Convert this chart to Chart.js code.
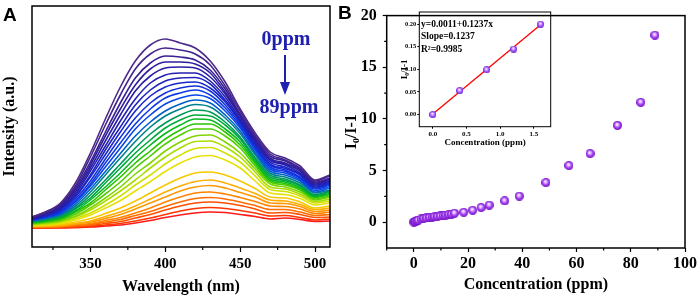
<!DOCTYPE html>
<html>
<head>
<meta charset="utf-8">
<script src="https://cdn.jsdelivr.net/npm/chart.js@4.4.1/dist/chart.umd.min.js"></script>
<style>
  body { margin: 0; background: #fff; }
  #wrap { position: relative; width: 699px; height: 299px; overflow: hidden; }
  canvas { position: absolute; }
</style>
</head>
<body>
<div id="wrap">
  <canvas id="spectra" width="340" height="299" style="left:0;top:0"></canvas>
  <canvas id="quench" width="364" height="299" style="left:335px;top:0"></canvas>
  <canvas id="inset" width="170" height="152" style="left:390px;top:0"></canvas>
</div>
<script>
// ---- panel A: emission spectra, one row per concentration (0 -> 89 ppm) ----
const wavelength = [311, 320, 330, 340, 350, 360, 370, 380, 390, 400, 410, 420, 430, 440, 450, 460, 470, 480, 490, 500, 510];
const intensityRows = [
  [30, 35, 44, 64, 94, 128, 160, 186, 202, 208, 204, 199, 186, 165, 138, 114, 95, 89, 81, 67, 72],
  [30, 35, 43, 61, 90, 122, 152, 178, 193, 199, 197, 193, 182, 161, 136, 111.5, 93, 87, 79, 66, 71],
  [29, 34, 42, 59, 85, 115, 144, 169, 184, 191, 190, 187, 177, 158, 133, 109.5, 91, 86, 78, 65, 69],
  [29, 33, 41, 57, 82, 111, 138, 162, 178, 185, 185, 183, 174, 155, 132, 108, 89, 84, 77, 64, 68],
  [28.5, 33, 40, 55, 79, 106, 132, 156, 171, 179, 180, 179, 170, 153, 130.5, 107, 88, 83, 76, 63, 67],
  [28.5, 32, 39, 53, 76, 101, 126, 148, 164, 172, 174, 174, 166, 150, 128, 105.5, 87, 82, 74, 62, 66],
  [28, 31.5, 38, 51, 72, 97, 120, 142, 157, 166, 169, 169.5, 163, 147, 126.5, 104, 85, 80, 73, 61, 65],
  [28, 31, 37, 50, 70, 92.5, 115, 136, 151, 160, 164, 165, 159, 145, 125, 102, 83, 78.5, 72, 60, 64],
  [27.5, 30.5, 36, 48, 66, 88, 109.5, 129, 144, 154, 159, 161, 156, 142, 123, 100.5, 82, 77, 70, 59, 63],
  [27, 30, 35, 46, 63, 84, 104, 123, 138, 149, 154, 157, 152, 139, 121, 99, 80, 75.5, 69, 58, 62],
  [27, 29.5, 34, 45, 61, 80, 99, 118, 132, 143, 149, 152, 148.5, 136, 119, 97, 78, 74, 67.5, 56.5, 60.5],
  [26.5, 29, 33, 43, 58, 75.5, 93.5, 111, 125, 136, 143, 147, 144, 132, 116, 94.5, 76, 72, 66, 55, 59],
  [26, 28, 32, 41, 55, 72, 89, 105.5, 120, 131, 138, 142.5, 140, 129, 113.5, 92.5, 74, 70, 64, 54, 57],
  [25.5, 27.5, 31, 39, 52, 67, 83, 99, 113, 124, 132, 137, 135, 125, 110, 89.5, 72, 68, 62, 52.5, 56],
  [25, 27, 30, 38, 49, 64, 79, 94, 107, 119, 127, 132, 131, 122, 108, 87.5, 70, 66.5, 61, 51.5, 55],
  [24.5, 26, 29, 36, 47, 60, 74, 89, 102, 113.5, 122, 128, 127, 118, 105, 85.5, 68, 65, 59.5, 50.5, 53.5],
  [24, 25.5, 28, 35, 44, 57, 70, 84, 96, 108, 117, 123, 123, 115, 102, 83.5, 66.5, 63.5, 58, 49.5, 52.5],
  [23.5, 25, 27, 33, 42, 53, 65, 79, 91, 103, 112, 118, 118, 111, 99, 81, 65, 62, 57, 48, 51],
  [23, 24, 26, 31, 39, 49, 60, 73, 84, 96, 105, 111, 112, 105, 94, 78, 63, 60, 55, 47, 50],
  [22.5, 23.5, 25.5, 30, 37, 46, 56, 67, 79, 90, 99, 105.5, 106, 100, 90, 75, 60, 58, 53, 45.5, 48],
  [22, 22.5, 24.5, 28.5, 34, 42, 51, 62, 72, 83, 92, 98.5, 99.5, 94, 85, 71, 57.5, 55.5, 51, 44, 46],
  [21.5, 22, 23.5, 27, 32, 39, 46.5, 56, 65.5, 75.5, 84, 90, 91.5, 87, 79, 66, 54, 52.5, 48.5, 42, 44],
  [21, 21.5, 22.5, 25, 28.5, 33.5, 39, 46, 54, 62, 69, 74, 75, 72, 66, 58.5, 50, 49, 45, 39, 41],
  [20.5, 21, 21.5, 23.5, 26, 30.5, 35, 41, 48, 55, 61, 65.5, 67, 64, 59, 53.5, 47, 46, 42.5, 37.5, 39],
  [20.5, 20.5, 21.5, 23, 25, 28.5, 32.5, 38, 44, 50, 56, 60, 61.5, 59, 54.5, 50, 44, 43.5, 40.5, 35.5, 37],
  [20, 20, 20.5, 22, 23.5, 26.5, 29.5, 34, 39, 45, 50, 54, 55, 53, 49.5, 45.5, 41, 40.5, 38, 33.5, 35],
  [20, 20, 20.5, 21.5, 22.5, 25, 27.5, 31.5, 35.5, 40.5, 45, 48.5, 49.5, 48, 45, 41.5, 37.5, 37.5, 35, 31.5, 32.5],
  [19.5, 19.5, 20, 20.5, 21.5, 23.5, 25.5, 29, 32.5, 37, 41, 44, 45, 44, 41.5, 38, 34, 34.5, 32.5, 29.5, 30],
  [19, 19, 19.5, 19.5, 20.5, 22, 23.5, 26, 29, 32.5, 36, 38.5, 39.5, 38.5, 36.5, 34, 31, 31.5, 29.5, 27, 28],
  [19, 19, 19, 19.5, 20, 21, 22, 24, 26.5, 29.5, 32, 34, 35, 34.5, 32.5, 30.5, 28, 29, 27.5, 25.5, 26]
];
const wavelengthTicks = [350, 400, 450, 500];

// ---- panel B: Stern-Volmer plot ----
const concentration = [0, 0.4, 0.8, 1.2, 1.6, 2.7, 3.7, 4.7, 5.8, 6.8, 7.7, 8.8, 9.8, 10.8, 11.8, 12.9, 13.9, 15.0, 18.4, 21.7, 24.8, 27.8, 33.5, 38.9, 48.7, 57.2, 65.0, 75.1, 83.7, 88.9];
const quenchRatio = [0, 0.053, 0.099, 0.145, 0.2, 0.31, 0.36, 0.41, 0.47, 0.5, 0.53, 0.56, 0.6, 0.65, 0.69, 0.75, 0.79, 0.87, 0.96, 1.15, 1.42, 1.65, 2.06, 2.52, 3.83, 5.48, 6.64, 9.37, 11.6, 18.1];
const concTicks = [0, 20, 40, 60, 80, 100];
const ratioTicks = [0, 5, 10, 15, 20];

// ---- inset: linear range ----
const insetConc = [0, 0.4, 0.8, 1.2, 1.6];
const insetRatio = [0, 0.053, 0.099, 0.145, 0.2];
const fitConc = [0, 1.6];
const fitRatio = [0.0011, 0.1990];
const insetConcTicks = [0, 0.5, 1.0, 1.5];
const insetRatioTicks = [0, 0.05, 0.10, 0.15, 0.20];

Chart.defaults.font.family = '"Liberation Serif", "Times New Roman", serif';
Chart.defaults.font.weight = 'bold';
Chart.defaults.color = '#000';

// colours from purple (0 ppm) to red (89 ppm)
const curveColors = ['#4d2a8a', '#42248e', '#382094', '#301e9c', '#2a1ea6', '#241fb2', '#1e22c0', '#1828cc',
  '#1430d8', '#0e3ae2', '#0846ea', '#0060c8', '#00808c', '#009a5a', '#00aa3c', '#08b820', '#28c400',
  '#50cc00', '#80d400', '#a8dc00', '#d0e000', '#e8e000', '#f8c800', '#ffae00', '#ff9800', '#ff8400',
  '#ff6c00', '#ff5000', '#ff3400', '#ff1a1a'];

function makeSphere(d, mid, outer) {
  const c = document.createElement('canvas');
  c.width = c.height = d;
  const g = c.getContext('2d');
  const r = d / 2;
  const grad = g.createRadialGradient(r * 0.85, r * 0.7, 0, r, r, r);
  grad.addColorStop(0, '#ffffff');
  grad.addColorStop(0.3, '#e2b8ff');
  grad.addColorStop(0.65, mid);
  grad.addColorStop(1, outer);
  g.fillStyle = grad;
  g.beginPath();
  g.arc(r, r, r, 0, Math.PI * 2);
  g.fill();
  return c;
}

// box round the plot area + short minor ticks
const framePlugin = {
  id: 'frame',
  afterDraw(chart, args, opts) {
    const { ctx, chartArea: a } = chart;
    ctx.save();
    ctx.strokeStyle = '#000';
    ctx.lineWidth = opts.tickWidth || 1.2;
    ctx.beginPath();
    (opts.minorX || []).forEach(v => {
      const x = chart.scales.x.getPixelForValue(v);
      ctx.moveTo(x, a.bottom); ctx.lineTo(x, a.bottom + opts.minorLen);
    });
    (opts.minorY || []).forEach(v => {
      const y = chart.scales.y.getPixelForValue(v);
      ctx.moveTo(a.left, y); ctx.lineTo(a.left - opts.minorLen, y);
    });
    ctx.stroke();
    ctx.lineWidth = opts.width || 1.5;
    ctx.strokeRect(a.left, a.top, a.right - a.left, a.bottom - a.top);
    ctx.restore();
  }
};

// free text (panel letters, notes)
const notesPlugin = {
  id: 'notes',
  afterDraw(chart, args, opts) {
    const ctx = chart.ctx;
    ctx.save();
    (opts.items || []).forEach(it => {
      ctx.font = it.font;
      ctx.fillStyle = it.color || '#000';
      ctx.textAlign = it.align || 'left';
      ctx.textBaseline = 'alphabetic';
      ctx.fillText(it.text, it.x, it.y);
    });
    if (opts.arrow) {
      const ar = opts.arrow;
      ctx.strokeStyle = ar.color;
      ctx.fillStyle = ar.color;
      ctx.lineWidth = 2;
      ctx.beginPath();
      ctx.moveTo(ar.x, ar.y0); ctx.lineTo(ar.x, ar.y1 - 10);
      ctx.stroke();
      ctx.beginPath();
      ctx.moveTo(ar.x - 5, ar.y1 - 13); ctx.lineTo(ar.x + 5, ar.y1 - 13); ctx.lineTo(ar.x, ar.y1);
      ctx.closePath();
      ctx.fill();
    }
    ctx.restore();
  }
};

function setTicks(values) {
  return scale => { scale.ticks = values.map(v => ({ value: v })); };
}

// ---------- panel A ----------
new Chart(document.getElementById('spectra'), {
  type: 'line',
  data: {
    datasets: intensityRows.map((row, i) => ({
      data: row.map((v, j) => ({ x: wavelength[j], y: v })),
      borderColor: curveColors[i],
      borderWidth: 1.6,
      pointRadius: 0,
      fill: false,
      cubicInterpolationMode: 'monotone'
    }))
  },
  options: {
    responsive: false,
    animation: false,
    devicePixelRatio: 1,
    layout: { padding: { top: 6, right: 10, left: 0, bottom: 0 } },
    plugins: {
      legend: { display: false },
      tooltip: { enabled: false },
      frame: { minorX: [325, 375, 425, 475], minorLen: 3 },
      notes: {
        items: [
          { text: 'A', x: 3, y: 21, font: 'bold 19px "Liberation Sans", Arial, sans-serif' },
          { text: '0ppm', x: 286, y: 45, font: 'bold 20px "Liberation Serif", serif', color: '#2020b0', align: 'center' },
          { text: '89ppm', x: 289, y: 113, font: 'bold 20px "Liberation Serif", serif', color: '#2020b0', align: 'center' }
        ],
        arrow: { x: 285, y0: 55, y1: 95, color: '#2020b0' }
      }
    },
    scales: {
      x: {
        type: 'linear', min: 311, max: 510,
        afterBuildTicks: setTicks(wavelengthTicks),
        afterFit: s => { s.height = 52; },
        ticks: { font: { size: 15, weight: 'bold' }, color: '#000', padding: 3, maxRotation: 0 },
        grid: { drawOnChartArea: false, tickLength: 5, tickColor: '#000', tickWidth: 1.2 },
        border: { display: false },
        title: { display: true, text: 'Wavelength (nm)', font: { size: 16, weight: 'bold' }, color: '#000', padding: { top: 0, bottom: 2.4 } }
      },
      y: {
        type: 'linear', min: 0, max: 241,
        afterFit: s => { s.width = 32; },
        ticks: { display: false },
        grid: { display: false },
        border: { display: false },
        title: { display: true, text: 'Intensity (a.u.)', font: { size: 16, weight: 'bold' }, color: '#000', padding: { top: 0, bottom: 0 } }
      }
    }
  },
  plugins: [framePlugin, notesPlugin]
});

// ---------- panel B ----------
const bigSphere = makeSphere(9, '#a23cf2', '#7010c0');
new Chart(document.getElementById('quench'), {
  type: 'scatter',
  data: {
    datasets: [{
      data: concentration.map((c, i) => ({ x: c, y: quenchRatio[i] })),
      pointStyle: bigSphere,
      pointRadius: 4
    }]
  },
  options: {
    responsive: false,
    animation: false,
    devicePixelRatio: 1,
    layout: { padding: { top: 6, right: 14, left: 0, bottom: 0 } },
    plugins: {
      legend: { display: false },
      tooltip: { enabled: false },
      frame: { minorX: [-10, 10, 30, 50, 70, 90], minorY: [2.5, 7.5, 12.5, 17.5], minorLen: 2.5 },
      notes: { items: [{ text: 'B', x: 3, y: 19, font: 'bold 19px "Liberation Sans", Arial, sans-serif' }] }
    },
    scales: {
      x: {
        type: 'linear', min: -10, max: 100,
        afterBuildTicks: setTicks(concTicks),
        afterFit: s => { s.height = 51; },
        ticks: { font: { size: 16, weight: 'bold' }, color: '#000', padding: 2, maxRotation: 0 },
        grid: { drawOnChartArea: false, tickLength: 4, tickColor: '#000', tickWidth: 1.2 },
        border: { display: false },
        title: { display: true, text: 'Concentration (ppm)', font: { size: 16, weight: 'bold' }, color: '#000', padding: { top: 0, bottom: 4.4 } }
      },
      y: {
        type: 'linear', min: -2.5, max: 20,
        afterBuildTicks: setTicks(ratioTicks),
        afterFit: s => { s.width = 51.7; },
        ticks: { font: { size: 16, weight: 'bold' }, color: '#000', padding: 6 },
        grid: { drawOnChartArea: false, tickLength: 4, tickColor: '#000', tickWidth: 1.2 },
        border: { display: false },
        title: { display: true, text: 'I₀/I-1', font: { size: 16, weight: 'bold' }, color: '#000', padding: { top: 7.4, bottom: 0 } }
      }
    }
  },
  plugins: [framePlugin, notesPlugin]
});

// ---------- inset ----------
const smallSphere = makeSphere(7, '#a050ff', '#6a20d0');
new Chart(document.getElementById('inset'), {
  type: 'scatter',
  data: {
    datasets: [
      {
        data: insetConc.map((c, i) => ({ x: c, y: insetRatio[i] })),
        pointStyle: smallSphere,
        pointRadius: 3
      },
      {
        type: 'line',
        data: fitConc.map((c, i) => ({ x: c, y: fitRatio[i] })),
        borderColor: '#ff0000',
        borderWidth: 1.3,
        pointRadius: 0
      }
    ]
  },
  options: {
    responsive: false,
    animation: false,
    devicePixelRatio: 1,
    layout: { padding: { top: 12, right: 9.3, left: 0, bottom: 0 } },
    plugins: {
      legend: { display: false },
      tooltip: { enabled: false },
      frame: { width: 1, tickWidth: 1, minorLen: 0 },
      notes: {
        items: [
          { text: 'y=0.0011+0.1237x', x: 31, y: 27, font: 'bold 9.5px "Liberation Serif", serif' },
          { text: 'Slope=0.1237', x: 31, y: 39, font: 'bold 9.5px "Liberation Serif", serif' },
          { text: 'R²=0.9985', x: 31, y: 52, font: 'bold 9.5px "Liberation Serif", serif' }
        ]
      }
    },
    scales: {
      x: {
        type: 'linear', min: -0.2, max: 1.75,
        afterBuildTicks: setTicks(insetConcTicks),
        afterFit: s => { s.height = 25.3; },
        ticks: { font: { size: 7, weight: 'bold' }, color: '#000', padding: 1, maxRotation: 0, callback: v => v.toFixed(1) },
        grid: { drawOnChartArea: false, tickLength: 2, tickColor: '#000', tickWidth: 1 },
        border: { display: false },
        title: { display: true, text: 'Concentration (ppm)', font: { size: 9, weight: 'bold' }, color: '#000', padding: { top: 0, bottom: 3.6 } }
      },
      y: {
        type: 'linear', min: -0.027, max: 0.227,
        afterBuildTicks: setTicks(insetRatioTicks),
        afterFit: s => { s.width = 29.3; },
        ticks: { font: { size: 6.5, weight: 'bold' }, color: '#000', padding: 1, callback: v => v.toFixed(2) },
        grid: { drawOnChartArea: false, tickLength: 2, tickColor: '#000', tickWidth: 1 },
        border: { display: false },
        title: { display: true, text: 'I₀/I-1', font: { size: 9, weight: 'bold' }, color: '#000', padding: { top: 9.6, bottom: 0 } }
      }
    }
  },
  plugins: [framePlugin, notesPlugin]
});
</script>
</body>
</html>
